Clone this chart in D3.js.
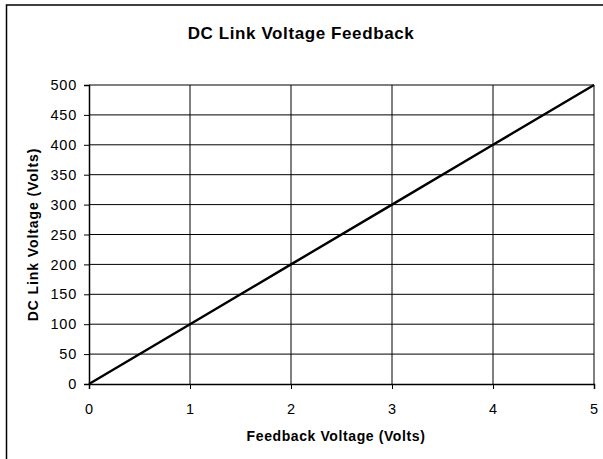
<!DOCTYPE html>
<html>
<head>
<meta charset="utf-8">
<script src="https://cdn.jsdelivr.net/npm/d3@7"></script>
<style>
  body { margin: 0; background: #fff; }
  text { font-family: "Liberation Sans", Arial, sans-serif; fill: #000; }
</style>
</head>
<body>
<div id="chart"></div>
<script>
// data
const feedbackVolts = [0, 1, 2, 3, 4, 5]
const linkVolts = [0, 100, 200, 300, 400, 500]
const xTicks = [0, 1, 2, 3, 4, 5]
const yTicks = [0, 50, 100, 150, 200, 250, 300, 350, 400, 450, 500]

const W = 603, H = 459
const margin = { top: 85, right: 9, bottom: 75, left: 89 }
const width = W - margin.left - margin.right,
  height = H - margin.top - margin.bottom

const svg = d3.select("#chart").append("svg")
  .attr("width", W)
  .attr("height", H)

// outer frame
svg.append("rect")
  .attr("x", 6.5).attr("y", 5)
  .attr("width", W).attr("height", H)
  .attr("fill", "none")
  .attr("stroke", "#000")
  .attr("stroke-width", 1.5)

svg.append("text")
  .attr("x", 301).attr("y", 39)
  .attr("text-anchor", "middle")
  .style("font-size", "17px")
  .style("font-weight", "bold")
  .style("letter-spacing", "0.6px")
  .text("DC Link Voltage Feedback")

const g = svg.append("g")
  .attr("transform", "translate(" + margin.left + "," + margin.top + ")")

const x = d3.scaleLinear().domain([0, 5]).range([0, width])
const y = d3.scaleLinear().domain([0, 500]).range([height, 0])

// gridlines
g.append("g").selectAll("line")
  .data(yTicks.slice(1))
  .enter().append("line")
  .attr("x1", 0).attr("x2", width)
  .attr("y1", d => y(d)).attr("y2", d => y(d))
  .attr("stroke", "#000").attr("stroke-width", 1)
g.append("g").selectAll("line")
  .data(xTicks.slice(1))
  .enter().append("line")
  .attr("y1", 0).attr("y2", height)
  .attr("x1", d => x(d)).attr("x2", d => x(d))
  .attr("stroke", "#000").attr("stroke-width", 1)

// axes
const xAxis = g.append("g")
  .attr("transform", "translate(0," + height + ")")
  .call(d3.axisBottom(x).tickValues(xTicks).tickSize(5).tickPadding(15).tickFormat(d3.format("d")))
const yAxis = g.append("g")
  .call(d3.axisLeft(y).tickValues(yTicks).tickSize(5).tickPadding(7).tickFormat(d3.format("d")))

;[xAxis, yAxis].forEach(a => {
  a.select(".domain").attr("stroke", "#000").attr("stroke-width", 1.5)
  a.selectAll(".tick line").attr("stroke", "#000")
  a.selectAll(".tick text")
    .style("font-family", "'Liberation Sans', Arial, sans-serif")
    .style("font-size", "14.5px")
    .style("letter-spacing", "0.8px")
    .attr("fill", "#000")
})

// the line
g.append("path")
  .datum(feedbackVolts.map((v, i) => [v, linkVolts[i]]))
  .attr("fill", "none")
  .attr("stroke", "#000")
  .attr("stroke-width", 2.4)
  .attr("d", d3.line().x(d => x(d[0])).y(d => y(d[1])))

// axis titles
svg.append("text")
  .attr("x", 336).attr("y", 441)
  .attr("text-anchor", "middle")
  .style("font-size", "14px")
  .style("font-weight", "bold")
  .style("letter-spacing", "0.6px")
  .text("Feedback Voltage (Volts)")

svg.append("text")
  .attr("transform", "translate(38," + (margin.top + height / 2) + ") rotate(-90)")
  .attr("text-anchor", "middle")
  .style("font-size", "14px")
  .style("font-weight", "bold")
  .style("letter-spacing", "0.9px")
  .text("DC Link Voltage (Volts)")
</script>
</body>
</html>
